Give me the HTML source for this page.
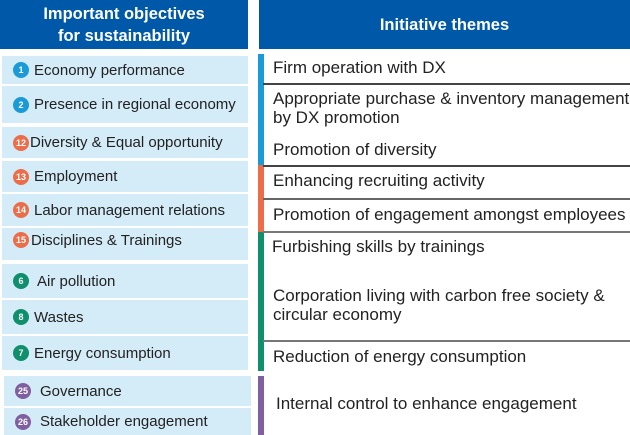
<!DOCTYPE html>
<html><head><style>
body{margin:0;width:630px;height:435px;background:#fff;position:relative;font-family:"Liberation Sans",sans-serif;overflow:hidden}
.a{position:absolute}
.h{background:#0058a8;color:#fff;font-size:16.5px;font-weight:bold;text-align:center;display:flex;align-items:center;justify-content:center;line-height:22px}
.b{position:absolute;left:2px;width:246px;background:#d4ebf8;font-size:15px;color:#222;display:flex;align-items:center;white-space:nowrap}
.c{display:inline-block;width:16px;height:16px;border-radius:50%;color:#fff;font-size:9px;text-align:center;line-height:16px;margin-left:11px;margin-right:5px;font-weight:bold;flex:none}
.t{position:absolute;left:273px;font-size:17px;color:#222;line-height:19px;white-space:nowrap}
.l{position:absolute;left:263px;width:367px;height:2px;background:#444}
</style></head><body>
<div class="a h" style="left:0;top:0;width:248px;height:49px">Important objectives<br>for sustainability</div>
<div class="a h" style="left:259px;top:0;width:371px;height:49px">Initiative themes</div>

<div class="b" style="top:56px;height:28px"><span class="c" style="background:#1a9ad6">1</span>Economy performance</div>
<div class="b" style="top:86px;height:37px"><span class="c" style="background:#1a9ad6">2</span>Presence in regional economy</div>
<div class="b" style="top:127px;height:31px"><span class="c" style="background:#ec6d4a;margin-right:1px">12</span>Diversity &amp; Equal opportunity</div>
<div class="b" style="top:161px;height:31px"><span class="c" style="background:#ec6d4a">13</span>Employment</div>
<div class="b" style="top:194px;height:32px"><span class="c" style="background:#ec6d4a">14</span>Labor management relations</div>
<div class="b" style="top:228px;align-items:flex-start;padding-top:4px;height:28px"><span class="c" style="background:#ec6d4a;margin-right:2px">15</span>Disciplines &amp; Trainings</div>
<div class="b" style="top:264px;height:34px"><span class="c" style="background:#0f8f6c;margin-right:8px">6</span>Air pollution</div>
<div class="b" style="top:300px;height:34px"><span class="c" style="background:#0f8f6c">8</span>Wastes</div>
<div class="b" style="top:336px;height:34px"><span class="c" style="background:#0f8f6c">7</span>Energy consumption</div>
<div class="b" style="top:376px;height:30px;left:4px;width:247px"><span class="c" style="background:#7f5fa0;margin-right:9px">25</span>Governance</div>
<div class="b" style="top:408px;height:27px;left:4px;width:247px"><span class="c" style="background:#7f5fa0;margin-right:9px">26</span>Stakeholder engagement</div>

<div class="a" style="left:258px;top:54px;width:6px;height:111px;background:#1a9ad6"></div>
<div class="a" style="left:258px;top:165px;width:6px;height:67px;background:#ec6d4a"></div>
<div class="a" style="left:258px;top:232px;width:6px;height:139px;background:#0f8f6c"></div>
<div class="a" style="left:258px;top:376px;width:6px;height:59px;background:#7f5fa0"></div>

<div class="l" style="top:83px"></div>
<div class="l" style="top:165px"></div>
<div class="l" style="top:198px;background:#666"></div>
<div class="l" style="top:231px;background:#777"></div>
<div class="l" style="top:340px;background:#777"></div>

<div class="t" style="top:58px">Firm operation with DX</div>
<div class="t" style="top:89px">Appropriate purchase &amp; inventory management<br>by DX promotion</div>
<div class="t" style="top:140px">Promotion of diversity</div>
<div class="t" style="top:171px">Enhancing recruiting activity</div>
<div class="t" style="top:205px">Promotion of engagement amongst employees</div>
<div class="t" style="top:237px;left:272px">Furbishing skills by trainings</div>
<div class="t" style="top:286px">Corporation living with carbon free society &amp;<br>circular economy</div>
<div class="t" style="top:347px">Reduction of energy consumption</div>
<div class="t" style="top:394px;left:276px">Internal control to enhance engagement</div>
</body></html>
